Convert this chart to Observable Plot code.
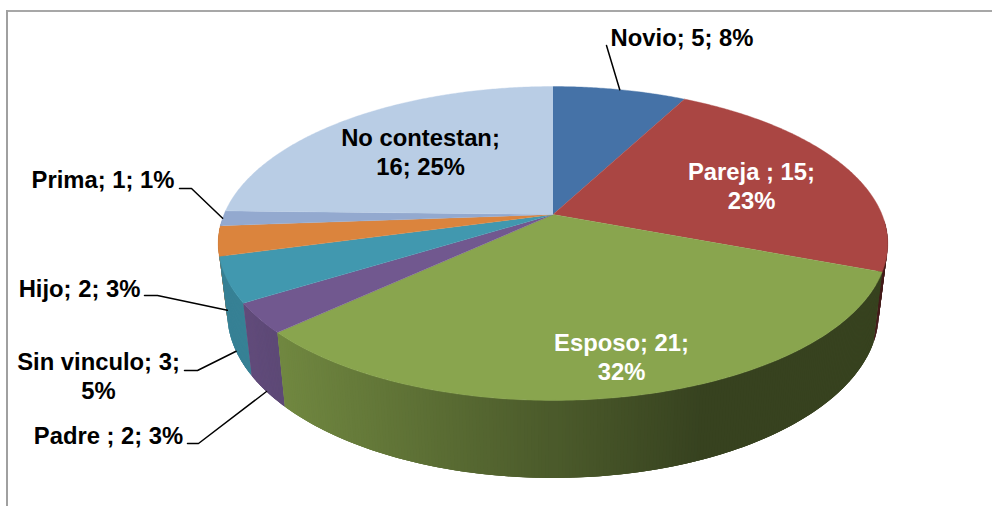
<!DOCTYPE html>
<html>
<head>
<meta charset="utf-8">
<script src="https://cdn.jsdelivr.net/npm/d3@7"></script>
<script src="https://cdn.jsdelivr.net/npm/@observablehq/plot@0.6"></script>
<style>
  html, body { margin: 0; padding: 0; background: #fff; }
  svg { display: block; }
</style>
</head>
<body>
<div id="chart"></div>
<script>
// Data
const categories = ["Novio", "Pareja", "Esposo", "Padre", "Sin vinculo", "Hijo", "Prima", "No contestan"];
const values = [5, 15, 21, 2, 3, 2, 1, 16];
const labels = ["Novio; 5; 8%", "Pareja ; 15;\n23%", "Esposo; 21;\n32%", "Padre ; 2; 3%", "Sin vinculo; 3;\n5%", "Hijo; 2; 3%", "Prima; 1; 1%", "No contestan;\n16; 25%"];

// Styles
const colors = ["#4572A7", "#AA4643", "#89A54E", "#71588F", "#4198AF", "#DB843D", "#93A9CF", "#B9CDE5"];
const labelColors = ["#000", "#fff", "#fff", "#000", "#000", "#000", "#000", "#000"];

// Label placement in chart units: centre x, last-line baseline y
const labelX = [681.5, 751, 621, 108, 98, 79, 102.5, 420];
const labelY = [45, 208, 379, 443, 398, 296, 187.5, 174];

// Leader lines: the fixed start of each line; the end is computed on the slice's rim
const leaderStarts = {
  "Novio": [[606, 45]],
  "Padre": [[187, 443], [198, 443]],
  "Sin vinculo": [[184, 370], [197, 370]],
  "Hijo": [[144, 295], [157, 295]],
  "Prima": [[179, 188], [191, 188]]
};
const leaderRim = {"Novio": "top", "Padre": "bottom", "Sin vinculo": "bottom", "Hijo": "bottom", "Prima": "top"};

// Perspective view of the pie disc
const cx = 552.5, cy = 214, persp = 0.1847, radiusY = 151.6, radiusX = 329;
const topPoint = (deg) => {
  const a = deg * Math.PI / 180, u = Math.sin(a), v = Math.cos(a), d = 1 + persp * v;
  return [cx + radiusX * u / d, cy - radiusY * v / d];
};
const bottomPoint = (deg) => {
  const [x, y] = topPoint(deg);
  return [cx + 0.973 * (x - cx), 405 + 1.05 * (y - 331)];
};

// Cumulative angles of the slices
const total = d3.sum(values);
const cumulative = d3.cumsum(values);
const startDeg = (i) => (i === 0 ? 0 : cumulative[i - 1]) / total * 360;
const endDeg = (i) => cumulative[i] / total * 360;

// Flat top of the pie
const topRows = [];
categories.forEach((name, i) => {
  const a0 = startDeg(i), a1 = endDeg(i), n = Math.ceil((a1 - a0) / 0.5);
  topRows.push({slice: name, p: [cx, cy], fill: colors[i]});
  for (let k = 0; k <= n; ++k) topRows.push({slice: name, p: topPoint(a0 + (a1 - a0) * k / n), fill: colors[i]});
});

// Side wall, as narrow strips shaded by their horizontal position; strips overlap to hide seams
const shade = (x) => Math.max(0.40, Math.min(0.85, 0.85 - (x - 250) * 0.001));
const scaleColor = (hex, f) => {
  const c = d3.rgb(hex);
  return d3.rgb(c.r * f, c.g * f, c.b * f).formatHex();
};
const strips = [];
categories.forEach((name, i) => {
  const a0 = startDeg(i), a1 = endDeg(i), n = Math.ceil((a1 - a0) / 0.5);
  for (let k = 0; k < n; ++k) {
    const s0 = a0 + (a1 - a0) * k / n, s1 = a0 + (a1 - a0) * (k + 1) / n;
    const mid = (s0 + s1) / 2;
    if (Math.cos(mid * Math.PI / 180) > -0.05) continue;
    const e0 = Math.max(a0, s0 - 0.5), e1 = Math.min(a1, s1 + 0.5);
    const t0 = topPoint(e0), t1 = topPoint(e1), b0 = bottomPoint(e0), b1 = bottomPoint(e1);
    strips.push({
      id: name + k, order: topPoint(mid)[1],
      pts: [t0, t1, b1, b0],
      fill: scaleColor(colors[i], shade(topPoint(mid)[0]))
    });
  }
});
strips.sort((a, b) => a.order - b.order);
const wallRows = strips.flatMap((s) => s.pts.map((p) => ({slice: s.id, p, fill: s.fill})));

// Leader lines
const leaderRows = Object.keys(leaderStarts).flatMap((name) => {
  const i = categories.indexOf(name);
  const mid = (startDeg(i) + endDeg(i)) / 2;
  const end = leaderRim[name] === "top" ? topPoint(mid) : bottomPoint(mid);
  return [...leaderStarts[name], end].map((p) => ({slice: name, p}));
});

const labelRows = categories.map((name, i) => ({name, text: labels[i], x: labelX[i], y: labelY[i], color: labelColors[i]}));

const chart = Plot.plot({
  width: 992,
  height: 506,
  margin: 0,
  style: {background: "#fff", fontFamily: "'Liberation Sans', Arial, sans-serif"},
  x: {domain: [0, 992], range: [0, 992], axis: null},
  y: {domain: [0, 506], range: [0, 506], axis: null},
  color: {type: "identity"},
  marks: [
    Plot.ruleY([10.5], {x1: 6, x2: 992, stroke: "#8a8a8a", strokeWidth: 1.5}),
    Plot.ruleX([6.5], {y1: 10, y2: 506, stroke: "#a0a0a0", strokeWidth: 2}),
    Plot.line(wallRows, {x: (d) => d.p[0], y: (d) => d.p[1], z: "slice", fill: "fill", stroke: null, strokeWidth: 0}),
    Plot.line(topRows, {x: (d) => d.p[0], y: (d) => d.p[1], z: "slice", fill: "fill", stroke: "fill", strokeWidth: 0.4}),
    Plot.line(leaderRows, {x: (d) => d.p[0], y: (d) => d.p[1], z: "slice", stroke: "#000", strokeWidth: 1.5}),
    Plot.text(labelRows, {
      x: "x", y: "y", text: "text", fill: "color",
      fontSize: 23.8, fontWeight: "bold", lineAnchor: "bottom", lineHeight: 1.18, textAnchor: "middle"
    })
  ]
});
document.getElementById("chart").appendChild(chart);
</script>
</body>
</html>
